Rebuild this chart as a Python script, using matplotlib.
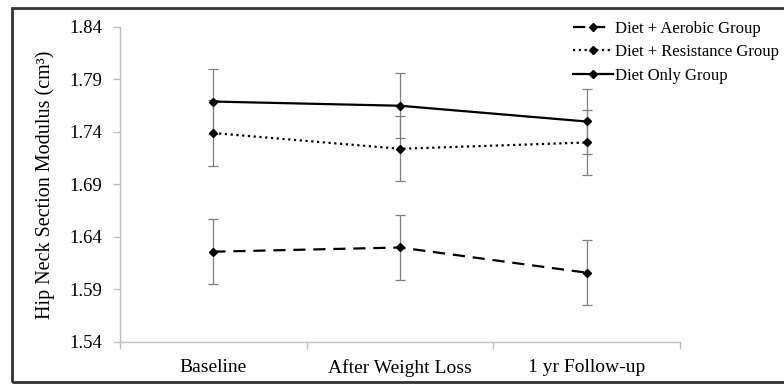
import matplotlib
matplotlib.use('Agg')
import matplotlib.pyplot as plt
from matplotlib.patches import Rectangle
import numpy as np

plt.rcParams['font.family'] = ['Liberation Serif', 'DejaVu Serif']

categories = ["Baseline", "After Weight Loss", "1 yr Follow-up"]
aerobic = [1.626, 1.630, 1.606]
resistance = [1.739, 1.724, 1.730]
diet_only = [1.769, 1.765, 1.750]
aerobic_err = [0.031, 0.031, 0.031]
resistance_err = [0.031, 0.031, 0.031]
diet_only_err = [0.031, 0.031, 0.031]
yticks = [1.54, 1.59, 1.64, 1.69, 1.74, 1.79, 1.84]

fig = plt.figure(figsize=(7.84, 3.84), dpi=100)
ax = fig.add_axes([120 / 784, 1 - 342 / 384, 560 / 784, 315 / 384])

x = np.arange(len(categories))
grey = '#7f7f7f'

series = [
    (aerobic, aerobic_err, (0, (5.5, 3.5)), "Diet + Aerobic Group"),
    (resistance, resistance_err, (0, (1, 1.6)), "Diet + Resistance Group"),
    (diet_only, diet_only_err, '-', "Diet Only Group"),
]
handles = []
for vals, err, ls, lab in series:
    ax.errorbar(x, vals, yerr=err, fmt='none', ecolor=grey, elinewidth=0.9,
                capsize=3.5, capthick=0.9, zorder=2)
    h, = ax.plot(x, vals, color='black', linestyle=ls, linewidth=1.6,
                 marker='D', markersize=4.5, label=lab, zorder=3)
    handles.append(h)

ax.set_xlim(-0.5, 2.5)
ax.set_ylim(1.54, 1.84)
ax.set_yticks(yticks)
ax.set_yticklabels([f"{v:.2f}" for v in yticks], fontsize=13.5)
ax.set_xticks(x)
ax.set_xticklabels(categories, fontsize=14)
ax.set_xticks([-0.5, 0.5, 1.5, 2.5], minor=True)
ax.tick_params(axis='x', which='major', length=0, pad=12)
ax.tick_params(axis='x', which='minor', length=5, color='#bfbfbf', width=1)
ax.tick_params(axis='y', length=5, color='#bfbfbf', width=1, pad=8)
for s in ['top', 'right']:
    ax.spines[s].set_visible(False)
for s in ['left', 'bottom']:
    ax.spines[s].set_color('#bfbfbf')
    ax.spines[s].set_linewidth(1)

ax.set_ylabel("Hip Neck Section Modulus (cm\u00b3)", fontsize=14.5, labelpad=10)

fig.legend(handles=handles, loc='upper left', bbox_to_anchor=(566 / 784, 1 - 14 / 384),
           frameon=False, prop={'family': 'Liberation Serif', 'size': 12},
           handlelength=2.4, handletextpad=0.12,
           labelspacing=0.45, borderaxespad=0)

fig.patches.append(Rectangle((12 / 784, 2 / 384), 1.0, 1 - 10 / 384,
                             transform=fig.transFigure, fill=False,
                             edgecolor='#333333', linewidth=2))

fig.savefig("out.png", dpi=100)
